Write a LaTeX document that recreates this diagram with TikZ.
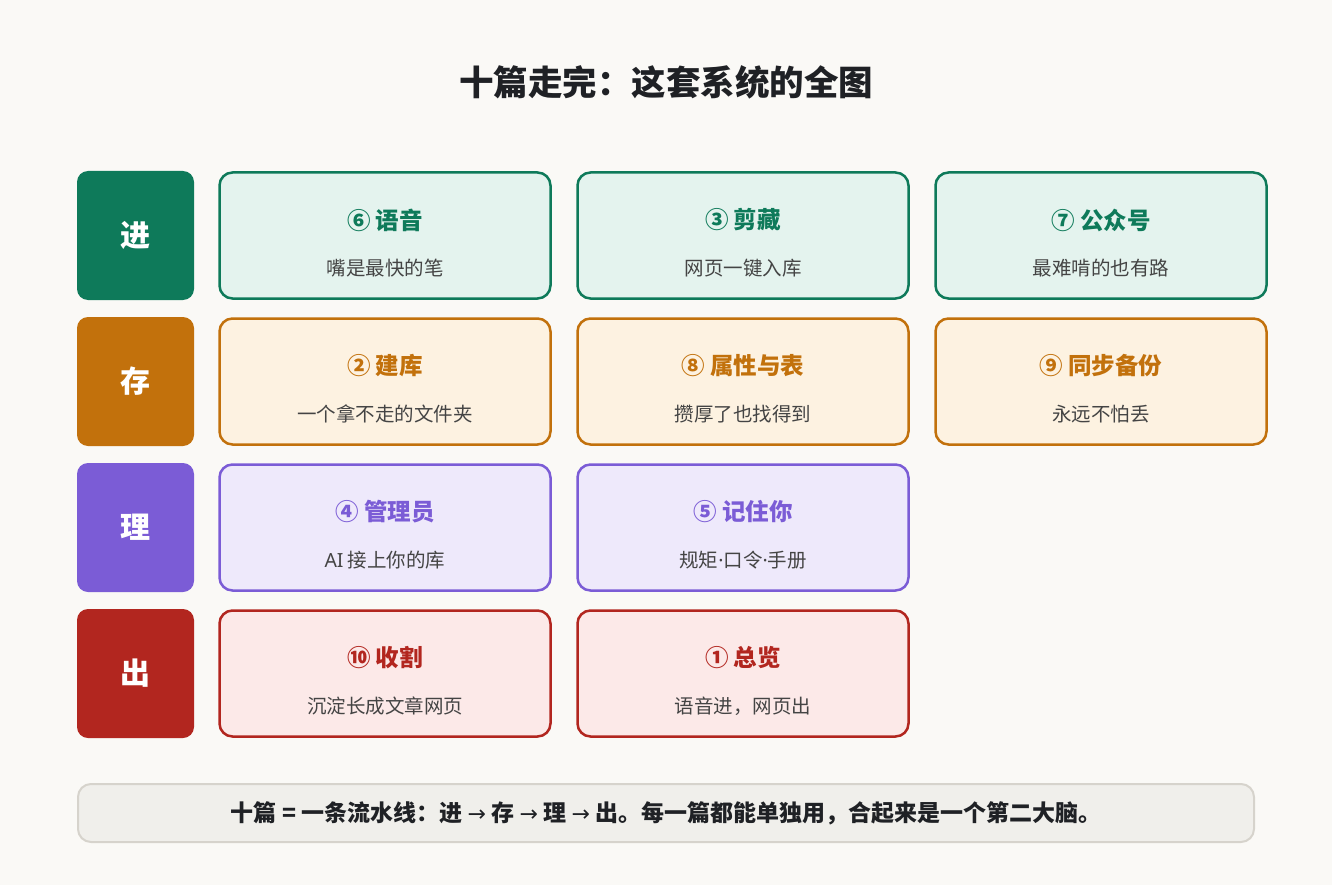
\documentclass[tikz,border=0pt]{standalone}
\usepackage{fontspec}
\setmainfont{Noto Sans CJK SC}
\newfontfamily\latinf{Noto Sans}
\newfontfamily\arrowf{DejaVu Sans}
\definecolor{bg}{HTML}{FAF9F6}
\definecolor{gA}{HTML}{0E7A5A}\definecolor{gF}{HTML}{E4F3EE}
\definecolor{oA}{HTML}{C2710C}\definecolor{oF}{HTML}{FDF2E1}
\definecolor{pA}{HTML}{7B5CD6}\definecolor{pF}{HTML}{EEE9FB}
\definecolor{rA}{HTML}{B2261F}\definecolor{rF}{HTML}{FCE9E8}
\definecolor{subc}{HTML}{444444}
\definecolor{titc}{HTML}{1F2125}
\definecolor{barF}{HTML}{F0EFEB}\definecolor{barD}{HTML}{D6D3CC}
\tikzset{
  cat/.style={rounded corners=11pt, minimum width=117pt, minimum height=129pt, inner sep=0pt, text=white, font=\fontsize{30}{32}\selectfont\bfseries},
  card/.style={rounded corners=13pt, line width=2.5pt, minimum width=331pt, minimum height=126pt, inner sep=0pt},
  ctitle/.style={font=\fontsize{23.5}{25}\selectfont\bfseries, anchor=center},
  csub/.style={font=\fontsize{19.5}{21}\selectfont, text=subc, anchor=center},
}
\newcommand{\arr}{{\arrowf\fontsize{22}{24}\selectfont\mdseries →}}
\begin{document}
\begin{tikzpicture}[x=1pt,y=-1pt]
\fill[bg] (0,0) rectangle (1332,885);
\useasboundingbox (0,0) rectangle (1332,885);
\node[font=\fontsize{34.5}{36}\selectfont\bfseries, text=titc] (title) at (666,82) {十篇走完：这套系统的全图};
% categories
\node[cat, fill=gA] (cin) at (135.5,235.5) {进};
\node[cat, fill=oA] (cst) at (135.5,381.5) {存};
\node[cat, fill=pA] (cor) at (135.5,527.5) {理};
\node[cat, fill=rA] (cout) at (135.5,673.5) {出};
% cards
\newcommand{\mycard}[6]{%
  \node[card, draw=#3, fill=#4] (#1) at (#2) {};
  \node[ctitle, text=#3] (#1t) at ([yshift=15.5pt]#1.center) {#5};
  \node[csub] (#1s) at ([yshift=-32.5pt]#1.center) {#6};
}
\mycard{a1}{385,235.5}{gA}{gF}{⑥ 语音}{嘴是最快的笔}
\mycard{a2}{743,235.5}{gA}{gF}{③ 剪藏}{网页一键入库}
\mycard{a3}{1101,235.5}{gA}{gF}{⑦ 公众号}{最难啃的也有路}
\mycard{b1}{385,381.5}{oA}{oF}{② 建库}{一个拿不走的文件夹}
\mycard{b2}{743,381.5}{oA}{oF}{⑧ 属性与表}{攒厚了也找得到}
\mycard{b3}{1101,381.5}{oA}{oF}{⑨ 同步备份}{永远不怕丢}
\mycard{c1}{385,527.5}{pA}{pF}{④ 管理员}{{\latinf AI} 接上你的库}
\mycard{c2}{743,527.5}{pA}{pF}{⑤ 记住你}{规矩{\latinf ·}口令{\latinf ·}手册}
\mycard{d1}{385,673.5}{rA}{rF}{⑩ 收割}{沉淀长成文章网页}
\mycard{d2}{743,673.5}{rA}{rF}{① 总览}{语音进，网页出}
% bottom bar
\node[rounded corners=13pt, draw=barD, fill=barF, line width=2pt, minimum width=1176pt, minimum height=58pt, inner sep=0pt] (bar) at (666,813) {};
\node[font=\fontsize{23}{25}\selectfont\bfseries, text=titc] (bart) at (bar.center) {十篇 = 一条流水线：进 \arr{} 存 \arr{} 理 \arr{} 出。每一篇都能单独用，合起来是一个第二大脑。};
\end{tikzpicture}
\end{document}
